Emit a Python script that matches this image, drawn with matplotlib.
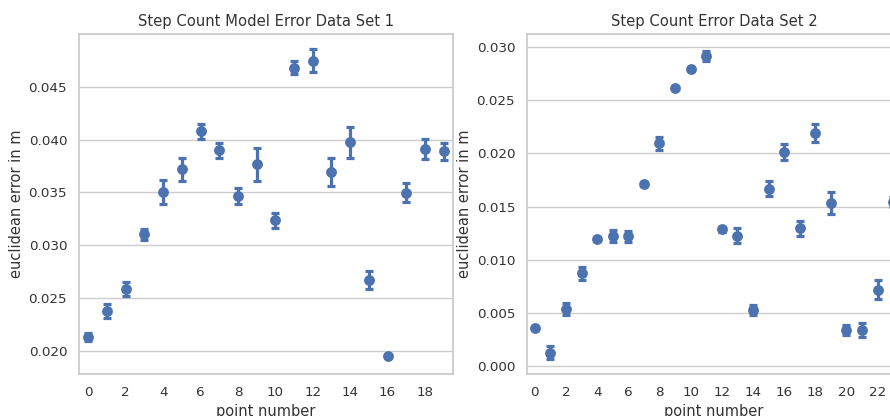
import matplotlib
matplotlib.use("Agg")
import matplotlib.pyplot as plt
import numpy as np
import seaborn as sns

# mean error and error-bar half width per point, data set 1
set1_mean = [0.02133, 0.02376, 0.02584, 0.03102, 0.03503, 0.03720, 0.04077, 0.03897,
             0.03468, 0.03765, 0.03234, 0.04680, 0.04749, 0.03692, 0.03973, 0.02672,
             0.01950, 0.03497, 0.03913, 0.03888]
set1_err = [0.00040, 0.00070, 0.00065, 0.00050, 0.00110, 0.00110, 0.00070, 0.00075,
            0.00077, 0.00160, 0.00075, 0.00060, 0.00105, 0.00135, 0.00150, 0.00085,
            0.00010, 0.00090, 0.00095, 0.00080]

# data set 2
set2_mean = [0.00354, 0.00125, 0.00539, 0.00874, 0.01194, 0.01225, 0.01219, 0.01714,
             0.02096, 0.02619, 0.02794, 0.02917, 0.01285, 0.01225, 0.00526, 0.01667,
             0.02018, 0.01297, 0.02193, 0.01535, 0.00338, 0.00338, 0.00720, 0.01545]
set2_err = [0.00010, 0.00060, 0.00055, 0.00060, 0.00015, 0.00055, 0.00055, 0.00020,
            0.00060, 0.00010, 0.00020, 0.00050, 0.00020, 0.00070, 0.00050, 0.00070,
            0.00075, 0.00070, 0.00085, 0.00100, 0.00050, 0.00065, 0.00090, 0.00050]

titles = ["Step Count Model Error Data Set 1", "Step Count Error Data Set 2"]
ylims = [(0.0178, 0.0500), (-0.00075, 0.03124)]
yticks = [[0.020, 0.025, 0.030, 0.035, 0.040, 0.045],
          [0.000, 0.005, 0.010, 0.015, 0.020, 0.025, 0.030]]

sns.set_theme(style="whitegrid")
color = sns.color_palette("deep")[0]

W, H = 890, 416
fig = plt.figure(figsize=(W / 100, H / 100), dpi=100)

# second panel runs past the right edge of the canvas
boxes = [(79, 34, 374, 340), (527, 34, 374, 340)]

for (x0, y0, w, h), mean, err, title, ylim, ticks in zip(
        boxes, [set1_mean, set2_mean], [set1_err, set2_err], titles, ylims, yticks):
    ax = fig.add_axes([x0 / W, 1 - (y0 + h) / H, w / W, h / H])
    x = np.arange(len(mean))
    ax.errorbar(x, mean, yerr=err, fmt="none", ecolor=color,
                elinewidth=2.3, capsize=3.0, capthick=2.3)
    ax.plot(x, mean, "o", color=color, markersize=7.8, markeredgewidth=0)
    ax.set_xlim(-0.5, len(mean) - 0.5)
    ax.set_ylim(*ylim)
    ax.set_xticks(x[::2])
    ax.set_xticklabels([str(i) for i in x[::2]])
    ax.set_yticks(ticks)
    ax.set_yticklabels([f"{t:.3f}" for t in ticks])
    ax.grid(axis="x", visible=False)
    ax.tick_params(length=0, labelsize=9.7, colors="#333333", pad=8.5)
    ax.set_title(title, fontsize=10.6, color="#333333", pad=6)
    ax.set_xlabel("point number", fontsize=10.5, color="#333333", labelpad=3.5)
    ax.set_ylabel("euclidean error in m", fontsize=10.5, color="#333333", labelpad=3)
    for sp in ax.spines.values():
        sp.set_color("#cccccc")
        sp.set_linewidth(1.3)

fig.savefig("out.png", dpi=100)
